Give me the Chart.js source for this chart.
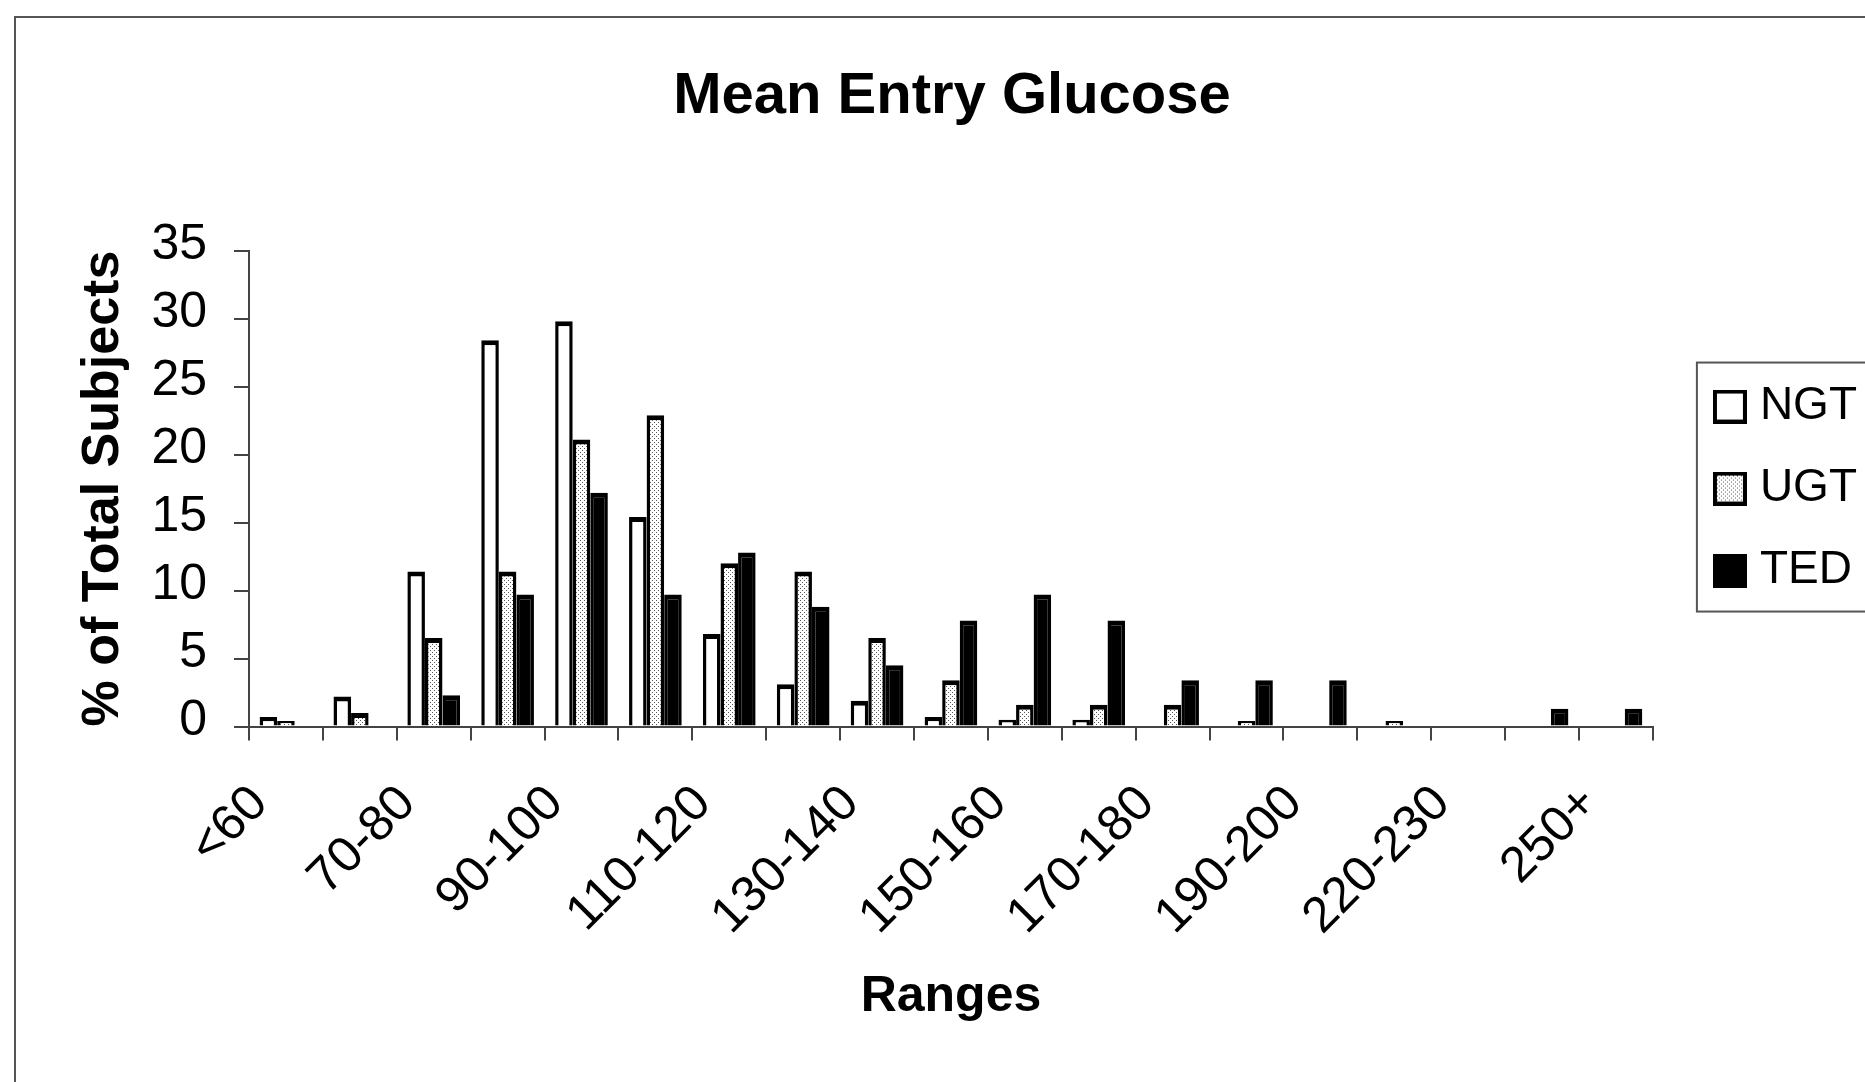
<!DOCTYPE html>
<html>
<head>
<meta charset="utf-8">
<title>Mean Entry Glucose</title>
<script src="https://cdn.jsdelivr.net/npm/chart.js@4/dist/chart.umd.min.js"></script>
<style>
  html, body { margin: 0; padding: 0; background: #fff; overflow: hidden; }
  .chart-box { position: relative; width: 1900px; height: 1082px; }
</style>
</head>
<body>
<div class="chart-box"><canvas id="glucose-chart"></canvas></div>
<script>
// Диапазоны глюкозы (подписи показываются через одну, как в исходнике)
const categories = [
  '<60', '60-70', '70-80', '80-90', '90-100', '100-110', '110-120', '120-130',
  '130-140', '140-150', '150-160', '160-170', '170-180', '180-190', '190-200',
  '200-220', '220-230', '230-250', '250+',
];
const seriesNames = ['NGT', 'UGT', 'TED'];
const ngtValues = [0.7, 2.2, 11.4, 28.4, 29.8, 15.4, 6.8, 3.1, 1.9, 0.7, 0.5, 0.5, 0, 0, 0, 0, 0, 0, 0];
const ugtValues = [0.4, 1.0, 6.5, 11.4, 21.1, 22.9, 12.0, 11.4, 6.5, 3.4, 1.6, 1.6, 1.6, 0.4, 0, 0.4, 0, 0, 0];
const tedValues = [0, 0, 2.3, 9.7, 17.2, 9.7, 12.8, 8.8, 4.5, 7.8, 9.7, 7.8, 3.4, 3.4, 3.4, 0, 0, 1.3, 1.3];
const yTicks = [0, 5, 10, 15, 20, 25, 30, 35];

const FONT = '"Liberation Sans", Arial, sans-serif';

// Точечная штриховка для UGT
function makeDots() {
  const c = document.createElement('canvas');
  c.width = 4;
  c.height = 4;
  const g = c.getContext('2d');
  g.fillStyle = '#ffffff';
  g.fillRect(0, 0, 4, 4);
  g.fillStyle = '#555555';
  g.fillRect(0, 0, 1, 1);
  g.fillRect(2, 2, 1, 1);
  return g.createPattern(c, 'repeat');
}

// Квадратик для легенды (заливка + толстая чёрная обводка)
function makeSwatch(fill) {
  const c = document.createElement('canvas');
  c.width = 34;
  c.height = 34;
  const g = c.getContext('2d');
  g.fillStyle = fill;
  g.fillRect(2, 2, 30, 30);
  g.lineWidth = 4;
  g.strokeStyle = '#000000';
  g.strokeRect(2, 2, 30, 30);
  return c;
}

const fills = ['#ffffff', makeDots(), '#000000'];
const swatches = fills.map(makeSwatch);

// Серая рамка вокруг всей картинки
const outerFrame = {
  id: 'outerFrame',
  beforeDraw(chart) {
    const { ctx } = chart;
    ctx.save();
    ctx.strokeStyle = '#555555';
    ctx.lineWidth = 2;
    ctx.strokeRect(15, 17, chart.width + 50, chart.height + 50);
    ctx.restore();
  },
};

// Сдвигаем легенду вправо от области графика и рисуем вокруг неё рамку
const legendFrame = {
  id: 'legendFrame',
  afterLayout(chart, args, options) {
    const lg = chart.legend;
    lg.left += options.shift;
    lg.right += options.shift;
  },
  afterDraw(chart, args, options) {
    const lg = chart.legend;
    const boxes = lg.legendHitBoxes;
    if (!boxes || !boxes.length) return;
    const pad = lg.options.labels.padding;
    const x = lg.left + pad - 26;
    const top = boxes[0].top - 21;
    const last = boxes[boxes.length - 1];
    const bottom = last.top + last.height + 18;
    const { ctx } = chart;
    ctx.save();
    ctx.strokeStyle = options.borderColor;
    ctx.lineWidth = options.borderWidth;
    ctx.strokeRect(x, top, chart.width, bottom - top);
    ctx.restore();
  },
};

const barBorder = { top: 5, right: 3.5, bottom: 0, left: 3.5 };

const data = {
  labels: categories,
  datasets: [ngtValues, ugtValues, tedValues].map((values, i) => ({
    label: seriesNames[i],
    data: values,
    backgroundColor: fills[i],
    borderColor: '#000000',
    borderWidth: barBorder,
    borderSkipped: 'bottom',
    categoryPercentage: 0.713,
    barPercentage: 1.0,
  })),
};

const axisColor = '#444444';

new Chart(document.getElementById('glucose-chart'), {
  type: 'bar',
  data: data,
  options: {
    responsive: true,
    maintainAspectRatio: false,
    animation: false,
    layout: { padding: { top: 0, left: 71, right: 67, bottom: 20 } },
    plugins: {
      title: {
        display: true,
        text: 'Mean Entry Glucose',
        color: '#000000',
        font: { family: FONT, size: 58, weight: 'bold', lineHeight: 1.2 },
        padding: { top: 62, bottom: 119 },
      },
      legend: {
        display: true,
        position: 'right',
        align: 'center',
        fullSize: false,
        labels: {
          color: '#000000',
          font: { family: FONT, size: 46 },
          usePointStyle: true,
          pointStyleWidth: 14,
          boxHeight: 34,
          padding: 36,
          generateLabels: (chart) =>
            Chart.defaults.plugins.legend.labels.generateLabels(chart).map((item, i) => ({
              ...item,
              pointStyle: swatches[i],
              rotation: 0,
            })),
        },
      },
      tooltip: { enabled: false },
      legendFrame: { shift: 34, borderColor: '#555555', borderWidth: 2 },
    },
    scales: {
      x: {
        offset: true,
        afterFit: (scale) => {
          scale.height = 335.5;
        },
        grid: {
          offset: true,
          drawOnChartArea: false,
          drawTicks: true,
          tickLength: 14,
          color: axisColor,
          lineWidth: 2,
        },
        border: { display: true, color: axisColor, width: 2 },
        ticks: {
          autoSkip: false,
          minRotation: 45,
          maxRotation: 45,
          labelOffset: -26,
          padding: 34,
          color: '#000000',
          font: { family: FONT, size: 50, lineHeight: 1.2 },
          callback: (value, index) => (index % 2 === 0 ? categories[index] : ''),
        },
        title: {
          display: true,
          text: 'Ranges',
          color: '#000000',
          font: { family: FONT, size: 50, weight: 'bold', lineHeight: 1.2 },
          padding: { top: 0, bottom: 35 },
        },
      },
      y: {
        min: yTicks[0],
        max: yTicks[yTicks.length - 1],
        afterBuildTicks: (scale) => {
          scale.ticks = yTicks.map((v) => ({ value: v }));
        },
        afterFit: (scale) => {
          scale.width = 178;
        },
        grid: {
          drawOnChartArea: false,
          drawTicks: true,
          tickLength: 15,
          color: axisColor,
          lineWidth: 2,
        },
        border: { display: true, color: axisColor, width: 2 },
        ticks: {
          padding: 27,
          labelOffset: -5,
          color: '#000000',
          font: { family: FONT, size: 50, lineHeight: 1.2 },
        },
        title: {
          display: true,
          text: '% of Total Subjects',
          color: '#000000',
          font: { family: FONT, size: 52, weight: 'bold', lineHeight: 1.2 },
          padding: { top: 1, bottom: 0 },
        },
      },
    },
  },
  plugins: [outerFrame, legendFrame],
});
</script>
</body>
</html>
